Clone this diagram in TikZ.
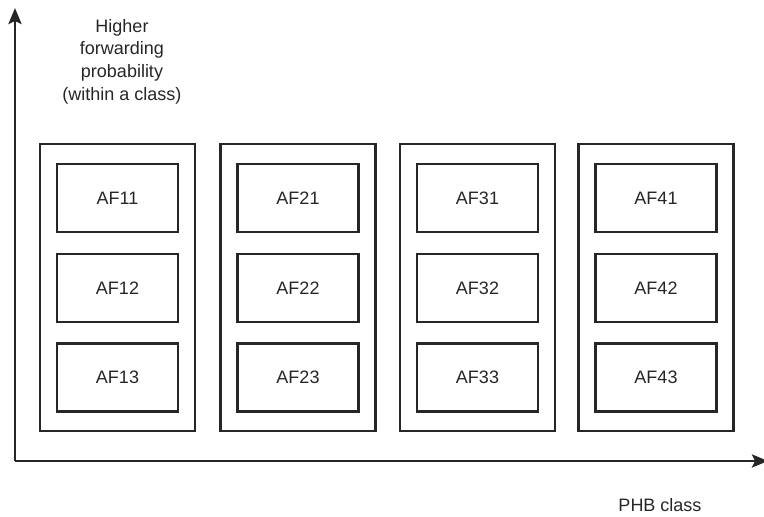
\documentclass[tikz,border=0pt]{standalone}
\usepackage{fontspec}
\setmainfont{Liberation Sans}
\usetikzlibrary{arrows.meta}
\begin{document}
\begin{tikzpicture}[x=1pt,y=-1pt,
  outerbox/.style={draw=black!85,line width=2.8pt,minimum width=155pt,minimum height=287pt,inner sep=0pt},
  innerbox/.style={draw=black!85,line width=2.8pt,minimum width=121pt,minimum height=68pt,inner sep=0pt,font=\fontsize{18}{21}\selectfont,text=black!85},
  axis/.style={draw=black!85,line width=2.8pt,-{Stealth[length=16pt,width=13pt,inset=3pt]}},
  lbl/.style={font=\fontsize{18}{22.7}\selectfont,text=black!85,align=center,inner sep=0pt}
]
\useasboundingbox (0,0) rectangle (764,517);
\coordinate (o) at (15,461);
\coordinate (ytip) at (15,8);
\coordinate (xtip) at (768,461);
\draw[axis] (o) -- (ytip);
\draw[axis] (o) -- (xtip);
\node[lbl,anchor=north] (ylab) at (122,19) {Higher\\forwarding\\probability\\(within a class)};
\node[lbl,anchor=base] (xlab) at (660,511) {PHB class};
\foreach \c/\x in {1/117.5,2/298,3/477.5,4/656}{
  \node[outerbox] (c\c) at (\x,287.5) {};
  \node[innerbox] (af\c1) at (\x,198) {AF\c1};
  \node[innerbox] (af\c2) at (\x,288) {AF\c2};
  \node[innerbox] (af\c3) at (\x,377.5) {AF\c3};
}
\end{tikzpicture}
\end{document}
